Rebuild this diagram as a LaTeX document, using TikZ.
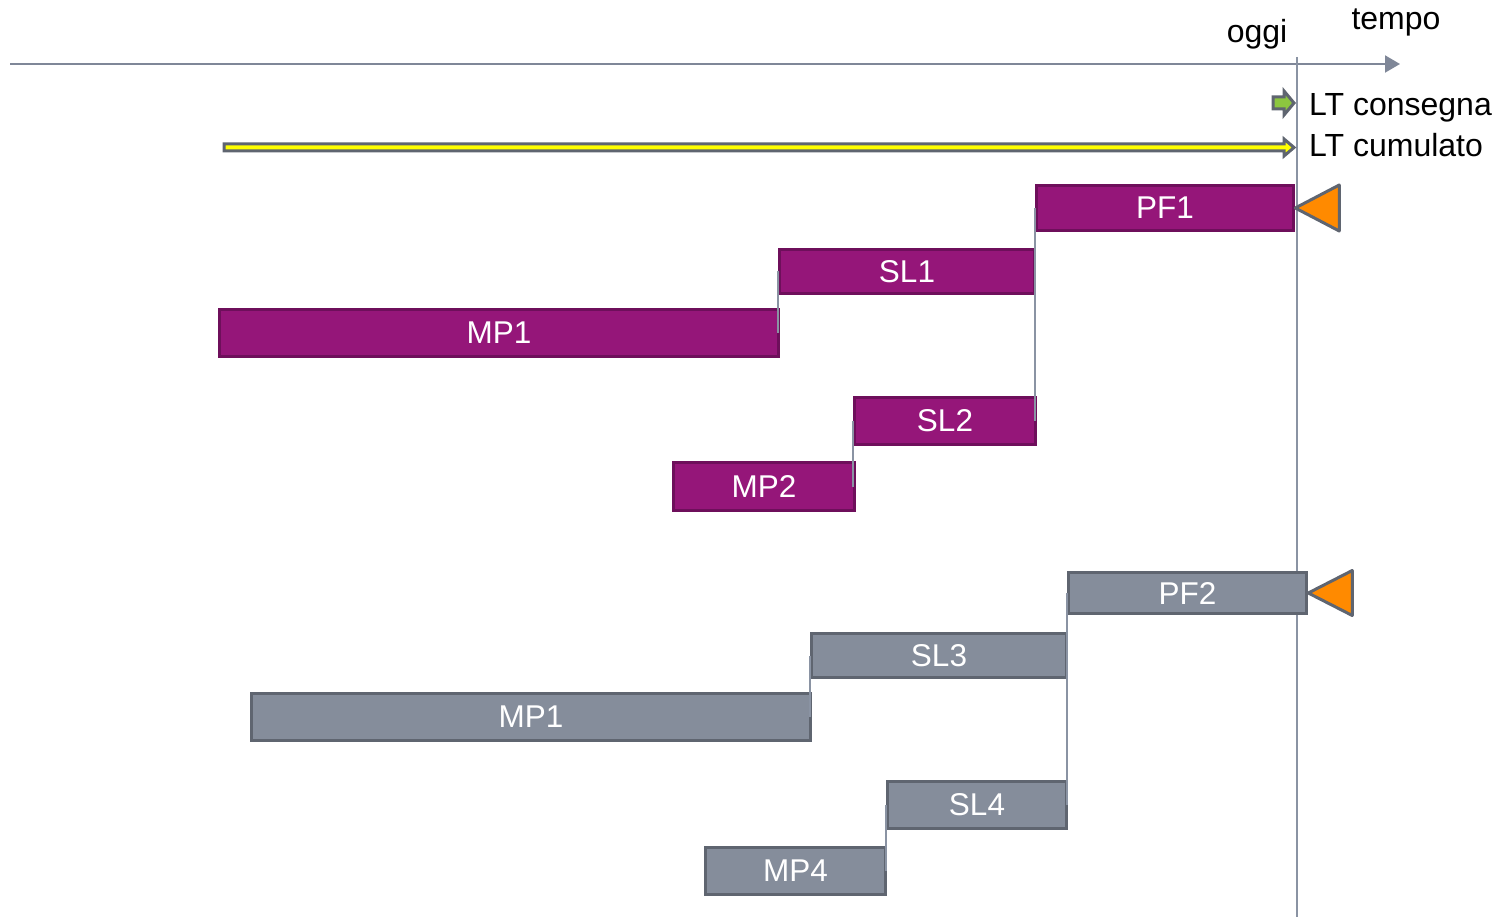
\documentclass[tikz,border=0pt]{standalone}
\usepackage{fontspec}
\setmainfont{Liberation Sans}
\usetikzlibrary{arrows.meta}
\definecolor{purp}{HTML}{951679}
\definecolor{purpdark}{HTML}{6E0F5B}
\definecolor{gbar}{HTML}{858D9B}
\definecolor{gbardark}{HTML}{5F6570}
\definecolor{axisgray}{HTML}{7F8798}
\definecolor{conngray}{HTML}{8A93A3}
\definecolor{orng}{HTML}{FF8A00}
\definecolor{grn}{HTML}{8CC63F}
\definecolor{ylw}{HTML}{FFFF00}
\tikzset{
  bartext/.style={font=\fontsize{31.5}{36}\selectfont, text=white, inner sep=0pt},
  pbar/.style={bartext, fill=purp, draw=purpdark, line width=3.5pt},
  gbarst/.style={bartext, fill=gbar, draw=gbardark, line width=3.5pt},
  conn/.style={draw=conngray, line width=2pt},
  tri/.style={fill=orng, draw=gbardark, line width=3pt, line join=round},
  lbl/.style={font=\fontsize{32}{38}\selectfont, inner sep=0pt, anchor=base},
}
\begin{document}
\begin{tikzpicture}[x=1pt,y=-1pt]
\useasboundingbox (0,0) rectangle (1512,917);
% time axis
\coordinate (axs) at (10,64);
\coordinate (axe) at (1400,64);
\draw[axisgray, line width=2pt, -{Triangle[length=15pt,width=17pt]}] (axs) -- (axe);
\node[lbl] (tempo) at (1396,30) {tempo};
\node[lbl] (oggi) at (1257,43) {oggi};
% today line
\coordinate (ot) at (1297,57);
\coordinate (ob) at (1297,917);
\draw[conngray, line width=2pt] (ot) -- (ob);
% LT consegna arrow
\draw[fill=grn, draw=gbardark, line width=3pt, line join=miter]
  (1273,97) -- (1284,97) -- (1284,91) -- (1294,103) -- (1284,115) -- (1284,109) -- (1273,109) -- cycle;
\node[lbl, anchor=base west] (ltc) at (1309,116) {LT consegna};
% LT cumulato arrow
\draw[fill=ylw, draw=gbardark, line width=3pt, line join=miter]
  (224,144) -- (1284,144) -- (1284,139) -- (1294,147.5) -- (1284,156) -- (1284,151) -- (224,151) -- cycle;
\node[lbl, anchor=base west] (ltcum) at (1309,157) {LT cumulato};
% purple bars
\node[pbar, minimum width=257pt, minimum height=45pt] (pf1) at (1165,208) {PF1};
\node[pbar, minimum width=255pt, minimum height=44pt] (sl1) at (907,271.5) {SL1};
\node[pbar, minimum width=559pt, minimum height=47pt] (mp1) at (499,333) {MP1};
\node[pbar, minimum width=181pt, minimum height=47pt] (sl2) at (945,421) {SL2};
\node[pbar, minimum width=181pt, minimum height=48pt] (mp2) at (764,486.5) {MP2};
\draw[conn] (pf1.west) -- (pf1.west |- sl2.east);
\draw[conn] (sl1.west) -- (sl1.west |- mp1.east);
\draw[conn] (sl2.west) -- (sl2.west |- mp2.east);
\draw[tri] (pf1.east) -- ++(44,-23) -- ++(0,46) -- cycle;
% gray bars
\node[gbarst, minimum width=238pt, minimum height=41pt] (pf2) at (1187.5,593) {PF2};
\node[gbarst, minimum width=255pt, minimum height=44pt] (sl3) at (939,655.5) {SL3};
\node[gbarst, minimum width=559pt, minimum height=47pt] (mp1b) at (531,717) {MP1};
\node[gbarst, minimum width=179pt, minimum height=47pt] (sl4) at (977,805) {SL4};
\node[gbarst, minimum width=180pt, minimum height=47pt] (mp4) at (795.5,871) {MP4};
\draw[conn] (pf2.west) -- (pf2.west |- sl4.east);
\draw[conn] (sl3.west) -- (sl3.west |- mp1b.east);
\draw[conn] (sl4.west) -- (sl4.west |- mp4.east);
\draw[tri] (pf2.east) -- ++(44,-22.5) -- ++(0,45) -- cycle;
\end{tikzpicture}
\end{document}
